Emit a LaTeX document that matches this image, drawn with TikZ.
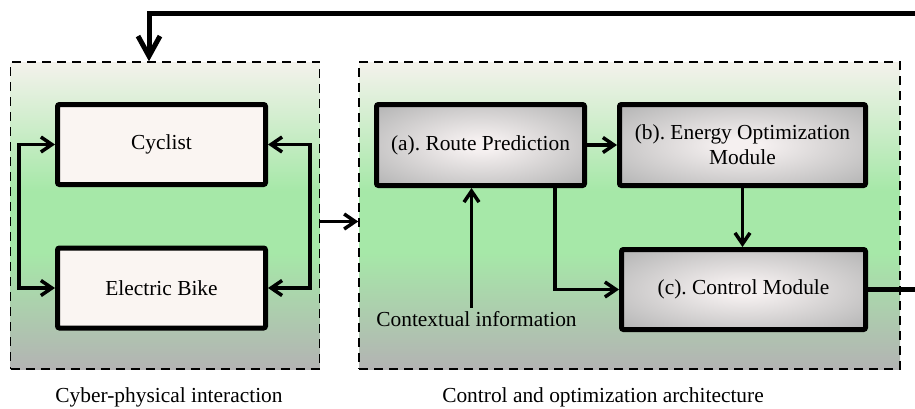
\documentclass[tikz,border=0pt]{standalone}
\usepackage{fontspec}
\setmainfont{Liberation Serif}
\usetikzlibrary{arrows.meta}
\frenchspacing

\definecolor{zonetop}{HTML}{F4F2EC}
\definecolor{zonegreen}{HTML}{A6E8A8}
\definecolor{zonegray}{HTML}{B3B3B3}
\definecolor{actorfill}{HTML}{FAF5F2}
\definecolor{modinner}{HTML}{F5F0F0}
\definecolor{modouter}{HTML}{B8B8B8}

\pgfdeclareverticalshading{zonefade}{100bp}{color(0bp)=(zonegray); color(25bp)=(zonegray); color(44bp)=(zonegreen); color(54bp)=(zonegreen); color(75bp)=(zonetop); color(100bp)=(zonetop)}
\pgfdeclareradialshading{modglow}{\pgfpoint{0bp}{0bp}}{color(0bp)=(modinner); color(4bp)=(modinner); color(33bp)=(modouter); color(50bp)=(modouter)}

\tikzset{
  zone/.style={draw, dashed, dash pattern=on 9pt off 6pt, line width=1.5pt, shading=zonefade, inner sep=0pt},
  actor/.style={draw, line width=5pt, rounded corners=2pt, fill=actorfill, minimum width=208pt, minimum height=80pt},
  module/.style={draw, line width=5pt, rounded corners=2pt, shading=modglow, minimum height=81pt, align=center},
  link/.style={line width=3.5pt},
  feedback/.style={line width=5pt, -{Straight Barb[length=20pt,width=22pt]}}
}

\begin{document}
\begin{tikzpicture}[x=1pt,y=-1pt,font=\fontsize{21.4}{25}\selectfont,>={Straight Barb[length=11pt,width=15pt]}]
\useasboundingbox (0,0) rectangle (915,408);

\node[zone, minimum width=309pt, minimum height=307pt] (cpi) at (165,215.5) {};
\node[zone, minimum width=541pt, minimum height=307pt] (coa) at (629.5,215.5) {};

\node[actor] (cyclist) at (161.5,144.5) {Cyclist};
\node[actor] (bike) at (161.5,288) {Electric Bike};

\node[module, minimum width=208pt] (route) at (480.5,145) {(a). Route Prediction};
\node[module, minimum width=246pt] (energy) at (742.5,145) {(b). Energy Optimization\\Module};
\node[module, minimum width=244pt, minimum height=80pt] (control) at (743.5,289.5) {(c). Control Module};

\node (ctx) at (476.5,319) {Contextual information};

\node (cpilabel) at (169,397) {Cyber-physical interaction};
\node (coalabel) at (603,397) {Control and optimization architecture};

\coordinate (turn) at (920,13);

\draw[link, <->] (cyclist.west) -- ++(-36,0) |- (bike.west);
\draw[link, <->] (cyclist.east) -- ++(42,0) |- (bike.east);
\draw[link, ->] ([yshift=-6pt]cpi.east) -- ([yshift=-6pt]coa.west);
\draw[link, ->] (route) -- (energy);
\draw[link, ->] (energy.south) -- (energy.south |- control.north);
\draw[link, ->] ([xshift=74.5pt]route.south) |- (control.west);
\draw[link, ->] ([xshift=-5pt]ctx.north) -- ([xshift=-5pt]ctx.north |- route.south);
\draw[feedback] (control.east) -| (turn) -| ([xshift=-16pt]cpi.north);
\end{tikzpicture}
\end{document}
